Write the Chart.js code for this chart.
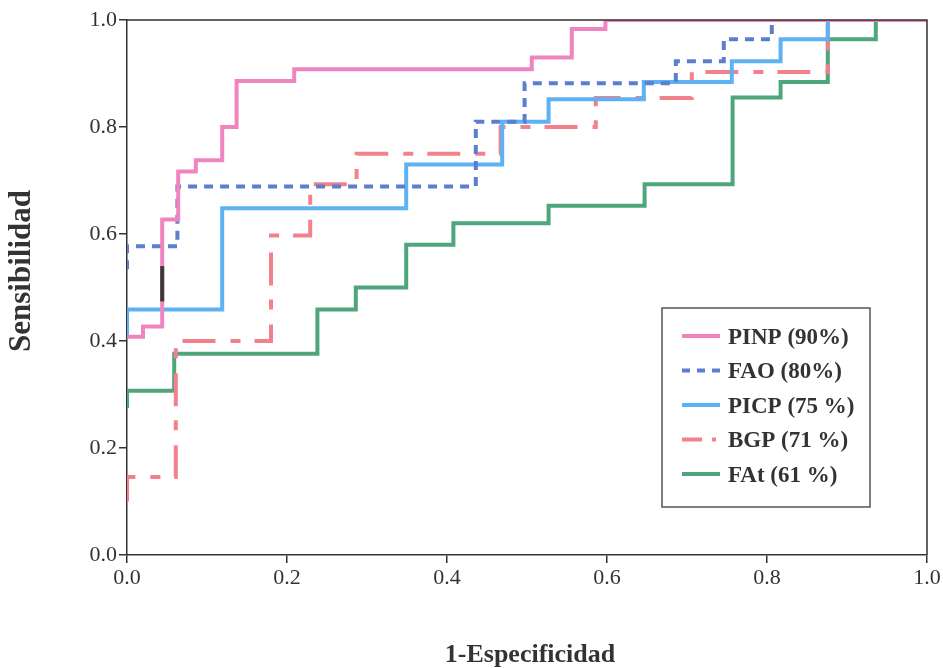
<!DOCTYPE html>
<html>
<head>
<meta charset="utf-8">
<script src="https://cdn.jsdelivr.net/npm/chart.js@4"></script>
<style>
  body { margin: 0; background: #fff; }
  #roc { display: block; }
</style>
</head>
<body>
<canvas id="roc" width="943" height="668"></canvas>
<script>
// ROC curves: 1-specificity (x) against sensitivity (y)
const seriesNames = ['PINP (90%)', 'FAO (80%)', 'PICP (75 %)', 'BGP (71 %)', 'FAt (61 %)'];

const pinpX = [0, 0.02, 0.044, 0.064, 0.086, 0.119, 0.137, 0.209, 0.506, 0.556, 0.598, 1.0];
const pinpY = [0.408, 0.427, 0.627, 0.717, 0.738, 0.80, 0.886, 0.908, 0.93, 0.983, 1.0, 1.0];

const faoX = [0, 0, 0.063, 0.436, 0.497, 0.686, 0.746, 0.806, 1.0];
const faoY = [0.534, 0.577, 0.689, 0.81, 0.882, 0.923, 0.964, 1.0, 1.0];

const picpX = [0, 0, 0.119, 0.349, 0.469, 0.527, 0.646, 0.756, 0.817, 0.876, 1.0];
const picpY = [0.41, 0.459, 0.648, 0.73, 0.81, 0.852, 0.884, 0.923, 0.964, 1.0, 1.0];

const bgpX = [0, 0, 0.061, 0.18, 0.229, 0.287, 0.467, 0.586, 0.706, 0.876, 1.0];
const bgpY = [0.10, 0.146, 0.40, 0.597, 0.693, 0.75, 0.80, 0.854, 0.903, 1.0, 1.0];

const fatX = [0, 0, 0.059, 0.238, 0.286, 0.349, 0.408, 0.527, 0.647, 0.757, 0.817, 0.876, 0.936, 1.0];
const fatY = [0.275, 0.307, 0.376, 0.459, 0.50, 0.58, 0.62, 0.653, 0.693, 0.855, 0.884, 0.964, 1.0, 1.0];

// short dark mark on the PINP riser
const markX = [0.044, 0.044];
const markY = [0.474, 0.54];

const tickValues = [0, 0.2, 0.4, 0.6, 0.8, 1.0];

const SERIF = '"Liberation Serif", "DejaVu Serif", serif';
const INK = '#333';

function pts(xs, ys) {
  return xs.map((x, i) => ({ x: x, y: ys[i] }));
}

function curve(label, xs, ys, color, dash) {
  return {
    label: label,
    data: pts(xs, ys),
    borderColor: color,
    borderWidth: 4,
    borderDash: dash || [],
    borderCapStyle: 'butt',
    stepped: true,
    pointRadius: 0,
    fill: false,
    inLegend: true
  };
}

const datasets = [
  curve(seriesNames[0], pinpX, pinpY, '#ef84bf'),
  curve(seriesNames[1], faoX, faoY, '#5b7fcc', [9, 7]),
  curve(seriesNames[2], picpX, picpY, '#5cb2f2'),
  curve(seriesNames[3], bgpX, bgpY, '#f3818c', [33, 15, 10, 14]),
  curve(seriesNames[4], fatX, fatY, '#4fa57c'),
  {
    label: 'mark',
    data: pts(markX, markY),
    borderColor: '#3a3a3a',
    borderWidth: 4,
    pointRadius: 0,
    fill: false,
    order: -1,
    inLegend: false
  }
];

// box on top and right of plot area, axis titles, legend box
const framePlugin = {
  id: 'frame',
  afterDraw(chart) {
    const { ctx, chartArea: a } = chart;
    ctx.save();
    ctx.strokeStyle = INK;
    ctx.lineWidth = 1.5;
    ctx.beginPath();
    ctx.moveTo(a.left, a.top);
    ctx.lineTo(a.right, a.top);
    ctx.lineTo(a.right, a.bottom);
    ctx.stroke();

    // axis titles
    ctx.fillStyle = INK;
    ctx.textAlign = 'center';
    ctx.textBaseline = 'middle';
    ctx.font = 'bold 26px ' + SERIF;
    ctx.fillText('1-Especificidad', 530, 655);
    ctx.save();
    ctx.translate(22, 271);
    ctx.rotate(-Math.PI / 2);
    ctx.font = 'bold 31px ' + SERIF;
    ctx.fillText('Sensibilidad', 0, 0);
    ctx.restore();

    // legend
    const bx = a.left + 535, by = 308, bw = 208, bh = 199;
    ctx.fillStyle = '#fff';
    ctx.fillRect(bx, by, bw, bh);
    ctx.strokeStyle = '#555';
    ctx.lineWidth = 1.5;
    ctx.strokeRect(bx, by, bw, bh);

    const items = chart.data.datasets.filter(d => d.inLegend);
    ctx.textAlign = 'left';
    ctx.font = 'bold 23px ' + SERIF;
    items.forEach((d, i) => {
      const y = by + 28 + i * 34.5;
      ctx.save();
      ctx.strokeStyle = d.borderColor;
      ctx.lineWidth = 4;
      ctx.setLineDash(d.borderDash.length ? (d.borderDash.length > 2 ? [20, 10, 4, 10] : [8, 7]) : []);
      ctx.beginPath();
      ctx.moveTo(bx + 20, y);
      ctx.lineTo(bx + 58, y);
      ctx.stroke();
      ctx.restore();
      ctx.fillStyle = INK;
      ctx.fillText(d.label, bx + 66, y + 2);
    });
    ctx.restore();
  }
};

const axisTicks = {
  font: { family: SERIF, size: 22 },
  color: INK,
  stepSize: 0.2,
  maxRotation: 0,
  callback: v => Number(v).toFixed(1)
};

const chart = new Chart(document.getElementById('roc'), {
  type: 'line',
  data: { datasets: datasets },
  options: {
    responsive: false,
    animation: false,
    layout: { padding: { top: 20, right: 16, left: 0, bottom: 0 } },
    plugins: {
      legend: { display: false },
      tooltip: { enabled: false }
    },
    scales: {
      x: {
        type: 'linear',
        min: 0,
        max: 1,
        afterBuildTicks: s => { s.ticks = tickValues.map(v => ({ value: v })); },
        afterFit: s => { s.height = 113; },
        grid: { drawOnChartArea: false, tickLength: 8, color: INK, lineWidth: 1.5 },
        border: { color: INK, width: 1.5 },
        ticks: Object.assign({ padding: 2 }, axisTicks)
      },
      y: {
        type: 'linear',
        min: 0,
        max: 1,
        afterBuildTicks: s => { s.ticks = tickValues.map(v => ({ value: v })); },
        afterFit: s => { s.width = 127; },
        grid: { drawOnChartArea: false, tickLength: 8, color: INK, lineWidth: 1.5 },
        border: { color: INK, width: 1.5 },
        ticks: Object.assign({ padding: 2 }, axisTicks)
      }
    }
  },
  plugins: [framePlugin]
});
</script>
</body>
</html>
